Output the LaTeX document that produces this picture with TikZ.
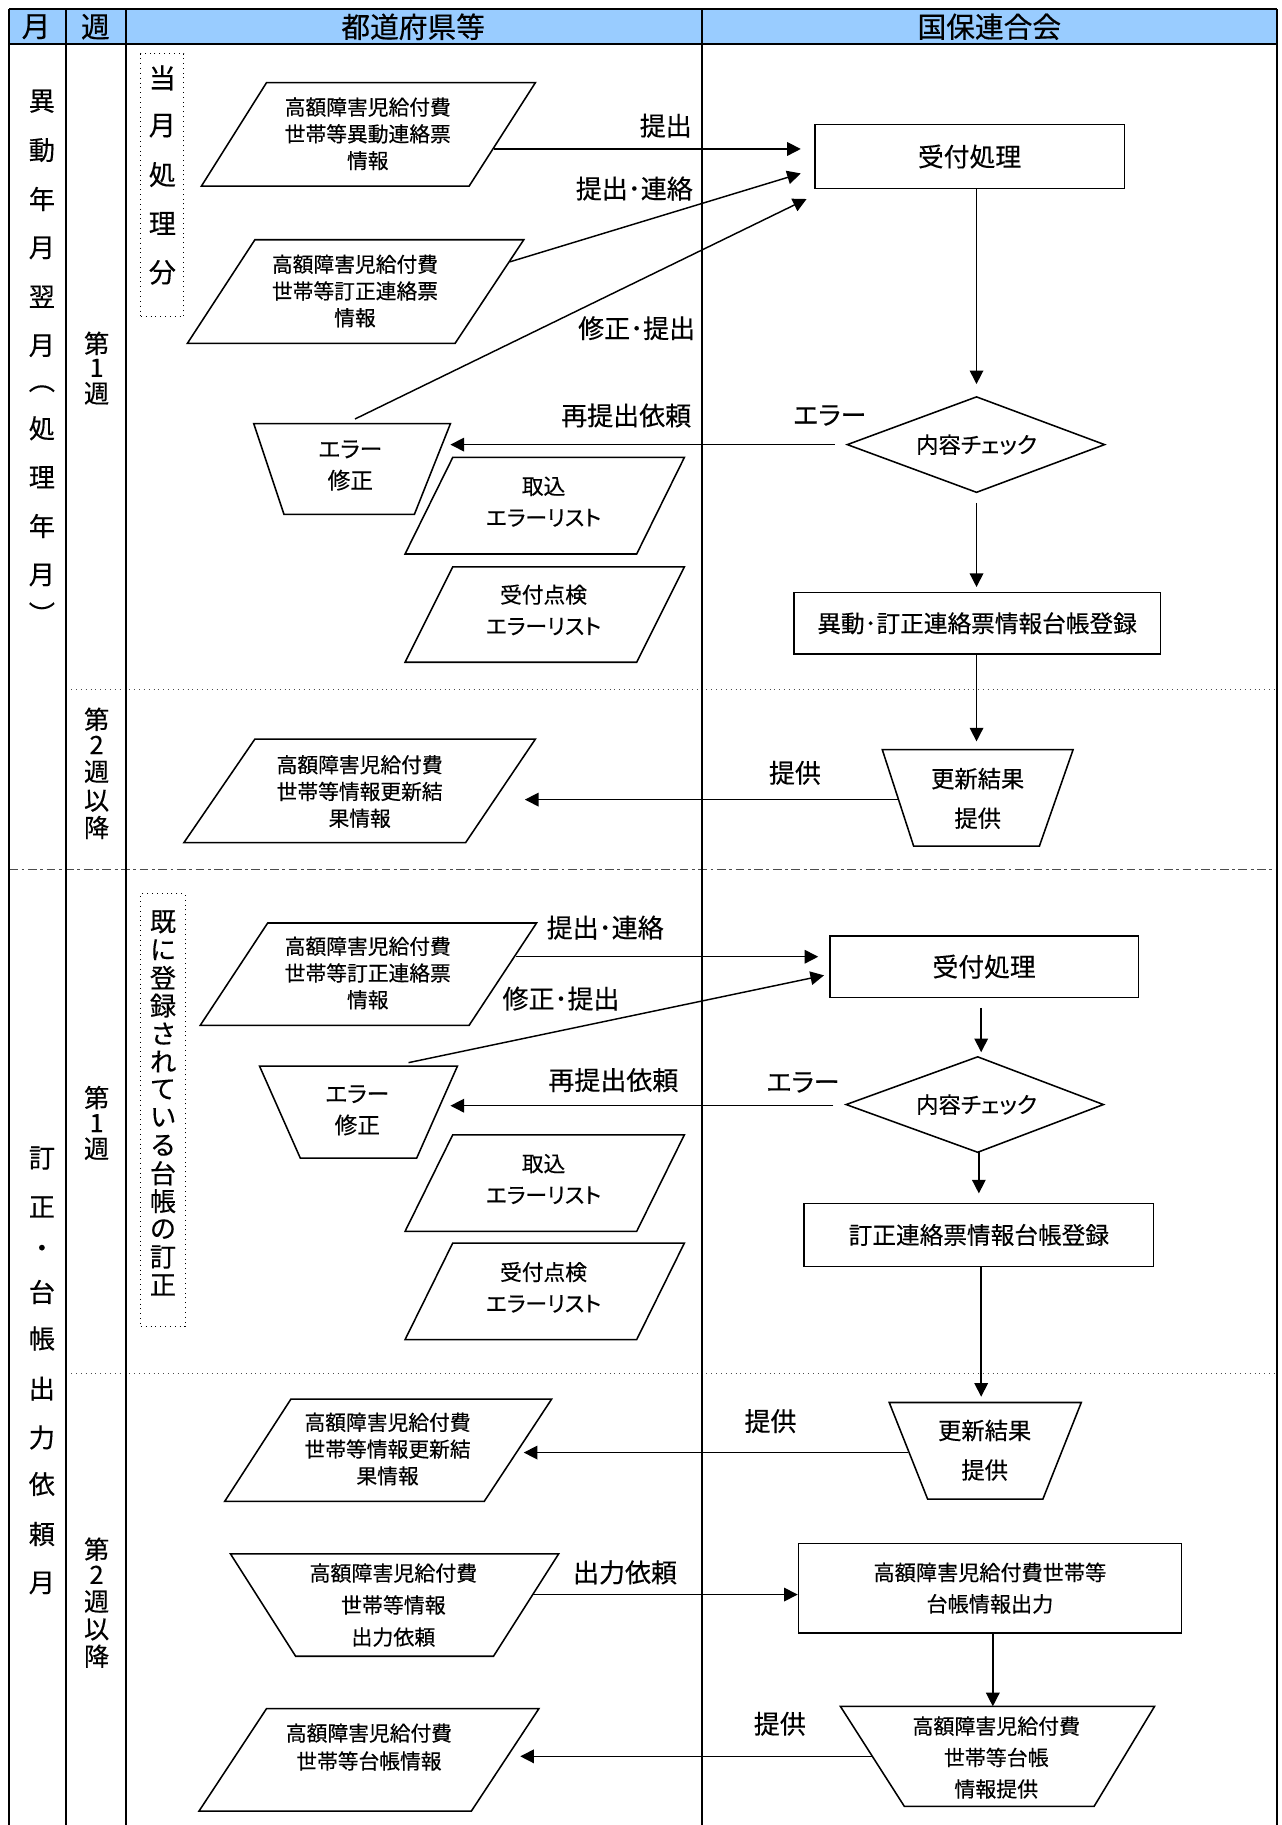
\documentclass[tikz,border=0pt]{standalone}
\usepackage{fontspec}
\setmainfont{Noto Sans CJK JP}[FakeBold=0.35,RawFeature=+palt]
\usetikzlibrary{arrows.meta}
\newcommand\fsz[2]{\fontsize{#1}{#2}\selectfont}
\definecolor{hdr}{HTML}{99CCFF}
\begin{document}
\begin{tikzpicture}[x=0.6pt,y=-0.6pt,
 frm/.style={line width=0.9pt},
 shp/.style={line width=0.8pt},
 tx/.style={align=center,inner sep=0pt,font=\fsz{10.7}{13.8}},
 lb/.style={inner sep=0pt,font=\fsz{13.4}{16}},
 ar/.style={line width=0.75pt,-{Triangle[length=7pt,width=7pt]}},
 ln/.style={line width=0.75pt},
 sepdot/.style={line width=0.5pt,dotted,black!70},
 sepdash/.style={line width=0.6pt,black!70,dash pattern=on 4.5pt off 1.8pt on 1.5pt off 1.8pt},
 vc/.style={inner sep=0pt,font=\fsz{13.5}{16}},
 wc/.style={inner sep=0pt,font=\fsz{13}{16}},
 bc/.style={inner sep=0pt,font=\fsz{14}{16}},
 rbox/.style={draw,line width=0.8pt,inner sep=0pt,align=center},
 hd/.style={inner sep=0pt,font=\fsz{14.8}{17}},
 dbox/.style={draw,dotted,line width=0.5pt,inner sep=0pt}
]
\fill[white] (0,0) rectangle (1101,1568);
\useasboundingbox (0,0) rectangle (1101,1568);
% header
\fill[hdr] (8,8) rectangle (1097,38);
\node[hd] (hm) at (31,23) {月};
\node[hd] (hw) at (82,23) {週};
\node[hd] (hp) at (355,23) {都道府県等};
\node[hd] (hk) at (850,23) {国保連合会};
% separators
\draw[sepdot] (57,592) -- (1097,592);
\draw[sepdash] (8,747) -- (1097,747);
\draw[sepdot] (57,1180) -- (1097,1180);
% frame
\draw[frm] (8,8) -- (1097,8);
\draw[frm] (8,38) -- (1097,38);
\foreach \xx in {8,57,108,603,1097} \draw[frm] (\xx,8) -- (\xx,1568);
% month column
\foreach \c/\y [count=\i] in {異/87,動/129,年/171,月/213,翌/255,月/297,︵/334,処/368,理/410,年/452,月/494,︶/527}
  \node[vc] (ma\i) at (36,\y) {\c};
\foreach \c/\y [count=\i] in {訂/995,正/1037,・/1075,台/1110,帳/1150,出/1193,力/1235,依/1275,頼/1318,月/1360}
  \node[vc] (mb\i) at (36,\y) {\c};
% week column
\foreach \c/\y [count=\i] in {第/295,1/316,週/338}
  \node[wc] (wa\i) at (83,\y) {\c};
\foreach \c/\y [count=\i] in {第/618,2/640,週/663,以/688,降/711}
  \node[wc] (wb\i) at (83,\y) {\c};
\foreach \c/\y [count=\i] in {第/943,1/965,週/987}
  \node[wc] (wc\i) at (83,\y) {\c};
\foreach \c/\y [count=\i] in {第/1331,2/1353,週/1376,以/1400,降/1423}
  \node[wc] (wd\i) at (83,\y) {\c};
% dotted boxes
\node[dbox,minimum width=22.2pt,minimum height=135.6pt] (db1) at (139.5,159) {};
\foreach \c/\y [count=\i] in {当/67,月/108,処/150,理/192,分/234}
  \node[bc] (ba\i) at (139.5,\y) {\c};
\node[dbox,minimum width=22.8pt,minimum height=223.2pt] (db2) at (140,954) {};
\foreach \c/\y [count=\i] in {既/792,に/816,登/840,録/864,さ/888,れ/912,て/936,い/960,る/984,台/1008,帳/1032,の/1056,訂/1080,正/1104}
  \node[inner sep=0pt,font=\fsz{13.5}{16}] (bb\i) at (140,\y) {\c};

% ===== upper section shapes =====
\draw[shp] (229,71) -- (460,71) -- (403,160) -- (173,160) -- cycle;
\node[tx] (p1) at (316,115) {高額障害児給付費\\世帯等異動連絡票\\情報};
\draw[shp] (219,206) -- (450,206) -- (391,295) -- (161,295) -- cycle;
\node[tx] (p2) at (305,250) {高額障害児給付費\\世帯等訂正連絡票\\情報};
\draw[shp] (218,364) -- (387,364) -- (356,442) -- (244,442) -- cycle;
\node[tx,font=\fsz{11.7}{16.2}] (e1) at (301,400) {エラー\\修正};
\draw[shp] (389,393) -- (588,393) -- (547,476) -- (348,476) -- cycle;
\node[tx,font=\fsz{11.2}{16.2}] (l1) at (467,431) {取込\\エラーリスト};
\draw[shp] (389,487) -- (588,487) -- (547,569) -- (348,569) -- cycle;
\node[tx,font=\fsz{11.2}{16.2}] (l2) at (467,524) {受付点検\\エラーリスト};

\node[rbox,minimum width=159.6pt,minimum height=33pt,font=\fsz{13.3}{16}] (u1) at (833,134.5) {受付処理};
\coordinate (d1t) at (839,341); \coordinate (d1r) at (949,382);
\coordinate (d1b) at (839,423); \coordinate (d1l) at (728,382);
\draw[shp] (d1t) -- (d1r) -- (d1b) -- (d1l) -- cycle;
\node[tx,font=\fsz{11.5}{14}] (d1) at (839,382) {内容チェック};
\node[rbox,minimum width=189pt,minimum height=31.8pt,font=\fsz{12.2}{15}] (r1) at (839.5,535.5) {異動･訂正連絡票情報台帳登録};
\coordinate (t1tl) at (758,644); \coordinate (t1tr) at (922,644);
\draw[shp] (t1tl) -- (t1tr) -- (893,727) -- (785,727) -- cycle;
\node[tx,font=\fsz{12}{20.4}] (t1) at (840,686) {更新結果\\提供};
\draw[shp] (219,635) -- (460,635) -- (400,724) -- (158,724) -- cycle;
\node[tx] (p3) at (309,680) {高額障害児給付費\\世帯等情報更新結\\果情報};

% upper connectors
\coordinate (p1o) at (424,128); \coordinate (u1i1) at (688,128);
\draw[ar] (p1o) -- (u1i1);
\coordinate (p2o) at (438,225); \coordinate (u1i2) at (688,149);
\draw[ar] (p2o) -- (u1i2);
\coordinate (e1o) at (305,360); \coordinate (u1i3) at (693,171);
\draw[ar] (e1o) -- (u1i3);
\draw[ar,shorten >=6.6pt] (u1.south -| d1t) -- (d1t);
\coordinate (e1i) at (387,382);
\draw[ar,shorten <=6.6pt] (d1l) -- (e1i);
\draw[ar,shorten <=5.4pt,shorten >=2.4pt] (d1b) -- (d1b |- r1.north);
\coordinate (t1i) at (839,644);
\draw[ar,shorten >=4.2pt] (r1.south -| t1i) -- (t1i);
\coordinate (t1o) at (772,687); \coordinate (p3i) at (451,687);
\draw[ar] (t1o) -- (p3i);

\node[lb] (la1) at (572,108) {提出};
\node[lb] (la2) at (545,162) {提出･連絡};
\node[lb] (la3) at (547,282) {修正･提出};
\node[lb] (la4) at (538,357) {再提出依頼};
\node[lb] (la5) at (713,357) {エラー};
\node[lb] (la6) at (683,664) {提供};

% ===== lower section shapes =====
\draw[shp] (230,793) -- (461,793) -- (403,881) -- (172,881) -- cycle;
\node[tx] (p4) at (316,836) {高額障害児給付費\\世帯等訂正連絡票\\情報};
\draw[shp] (223,916) -- (393,916) -- (358,995) -- (258,995) -- cycle;
\node[tx,font=\fsz{11.7}{16.2}] (e2) at (307,954) {エラー\\修正};
\draw[shp] (389,975) -- (588,975) -- (547,1058) -- (348,1058) -- cycle;
\node[tx,font=\fsz{11.2}{16.2}] (l3) at (467,1013) {取込\\エラーリスト};
\draw[shp] (389,1068) -- (588,1068) -- (547,1151) -- (348,1151) -- cycle;
\node[tx,font=\fsz{11.2}{16.2}] (l4) at (467,1106) {受付点検\\エラーリスト};

\node[rbox,minimum width=159pt,minimum height=31.8pt,font=\fsz{13.3}{16}] (u2) at (845.5,830.5) {受付処理};
\coordinate (d2t) at (840,908); \coordinate (d2r) at (948,949);
\coordinate (d2b) at (840,990); \coordinate (d2l) at (727,949);
\draw[shp] (d2t) -- (d2r) -- (d2b) -- (d2l) -- cycle;
\node[tx,font=\fsz{11.5}{14}] (d2) at (839,949) {内容チェック};
\node[rbox,minimum width=180pt,minimum height=32.4pt,font=\fsz{12.2}{15}] (r2) at (841,1061) {訂正連絡票情報台帳登録};
\draw[shp] (764,1205) -- (929,1205) -- (896,1288) -- (797,1288) -- cycle;
\node[tx,font=\fsz{12}{20.4}] (t2) at (846,1246) {更新結果\\提供};
\draw[shp] (250,1202) -- (474,1202) -- (416,1290) -- (193,1290) -- cycle;
\node[tx] (p5) at (333,1245) {高額障害児給付費\\世帯等情報更新結\\果情報};
\draw[shp] (198,1335) -- (480,1335) -- (424,1423) -- (254,1423) -- cycle;
\node[tx,font=\fsz{10.8}{16.5}] (p6) at (338,1379) {高額障害児給付費\\世帯等情報\\出力依頼};
\node[rbox,minimum width=197.4pt,minimum height=46.2pt,font=\fsz{10.9}{16.2}] (b3) at (850.5,1364.5) {高額障害児給付費世帯等\\台帳情報出力};
\draw[shp] (722,1466) -- (992,1466) -- (940,1552) -- (777,1552) -- cycle;
\node[tx,font=\fsz{10.8}{16.2}] (t3) at (856,1510) {高額障害児給付費\\世帯等台帳\\情報提供};
\draw[shp] (229,1468) -- (463,1468) -- (405,1556) -- (171,1556) -- cycle;
\node[tx,font=\fsz{10.7}{14.4}] (p7) at (317,1501) {高額障害児給付費\\世帯等台帳情報};

% lower connectors
\coordinate (p4o) at (443,822); \coordinate (u2i1) at (703,822);
\draw[ar] (p4o) -- (u2i1);
\coordinate (e2o) at (351,913); \coordinate (u2i2) at (708,838);
\draw[ar] (e2o) -- (u2i2);
\coordinate (d2in) at (843,908);
\draw[ar,shorten <=5pt,shorten >=2.4pt] (u2.south -| d2in) -- (d2in);
\coordinate (d2lo) at (727,950); \coordinate (e2i) at (387,950);
\draw[ar,shorten <=6.6pt] (d2lo) -- (e2i);
\draw[ar,shorten >=4.8pt] (d2b -| r2.north) -- (r2.north);
\coordinate (t2i) at (843,1205);
\draw[ar,shorten >=3pt] (r2.south -| t2i) -- (t2i);
\coordinate (t2o) at (780,1248); \coordinate (p5i) at (450,1248);
\draw[ar] (t2o) -- (p5i);
\coordinate (p6o) at (458,1370);
\draw[ar] (p6o) -- (p6o -| b3.west);
\coordinate (t3i) at (853,1466);
\draw[ar] (b3.south -| t3i) -- (t3i);
\coordinate (t3o) at (750,1509); \coordinate (p7i) at (447,1509);
\draw[ar] (t3o) -- (p7i);

\node[lb] (lb1) at (520,797) {提出･連絡};
\node[lb] (lb2) at (482,858) {修正･提出};
\node[lb] (lb3) at (527,928) {再提出依頼};
\node[lb] (lb4) at (690,930) {エラー};
\node[lb] (lb5) at (662,1221) {提供};
\node[lb] (lb6) at (537,1351) {出力依頼};
\node[lb] (lb7) at (670,1481) {提供};
\end{tikzpicture}
\end{document}
